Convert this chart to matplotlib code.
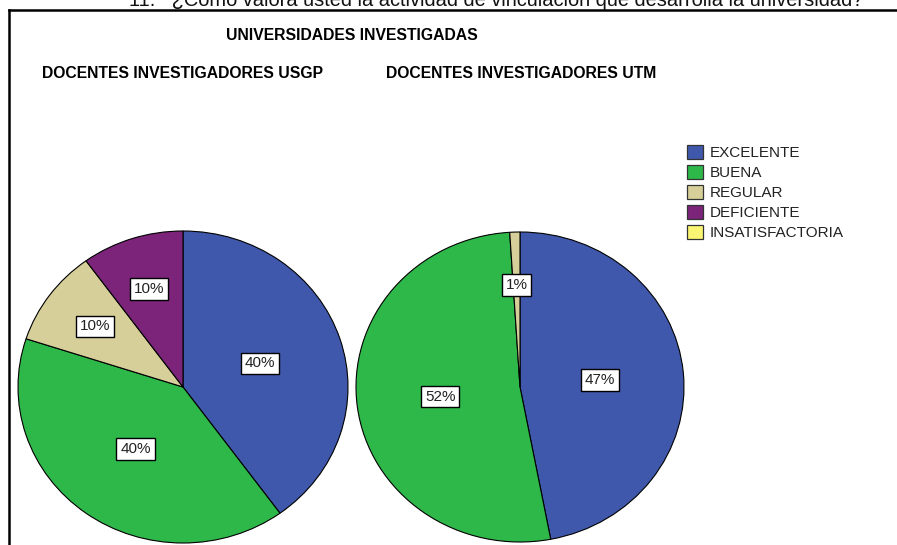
import matplotlib
matplotlib.use('Agg')
import matplotlib.pyplot as plt
from matplotlib.patches import Patch
from matplotlib.lines import Line2D
import numpy as np

plt.rcParams['font.family'] = ['Liberation Sans', 'DejaVu Sans']

categorias = ['EXCELENTE', 'BUENA', 'REGULAR', 'DEFICIENTE', 'INSATISFACTORIA']
colores = ['#3F58AB', '#2EB84A', '#D6CF99', '#7B2479', '#FAF674']
usgp = [40, 40, 10, 10, 0]
utm = [47, 52, 1, 0, 0]
titulos = ['DOCENTES INVESTIGADORES USGP', 'DOCENTES INVESTIGADORES UTM']

W, H = 897, 545
fig = plt.figure(figsize=(W / 100, H / 100), dpi=100)

def caja(x, y, w, h):
    return fig.add_axes([x / W, (H - y - h) / H, w / W, h / H])

def pastel(ax, valores):
    vals = [v for v in valores if v > 0]
    cols = [c for v, c in zip(valores, colores) if v > 0]
    wedges, _ = ax.pie(vals, colors=cols, startangle=90, counterclock=False,
                       wedgeprops=dict(edgecolor='black', linewidth=0.8))
    ax.set_aspect('auto')
    ax.set_xlim(-1, 1)
    ax.set_ylim(-1, 1)
    for w, v in zip(wedges, vals):
        ang = np.deg2rad((w.theta1 + w.theta2) / 2)
        r = 0.66 if v < 15 else 0.49
        ax.text(r * np.cos(ang), r * np.sin(ang), f'{v}%', ha='center', va='center',
                fontsize=11, color='#222222',
                bbox=dict(boxstyle='square,pad=0.25', fc='white', ec='black', lw=1.0))

ax1 = caja(18, 231, 330, 312)
pastel(ax1, usgp)
ax2 = caja(356, 232, 328, 310)
pastel(ax2, utm)

# marco
fig.add_artist(Line2D([9 / W, 1], [1 - 10 / H, 1 - 10 / H], color='black', lw=1.8,
                      transform=fig.transFigure))
fig.add_artist(Line2D([9 / W, 9 / W], [0, 1 - 10 / H], color='black', lw=1.8,
                      transform=fig.transFigure))

# pregunta (cortada arriba, como en la captura)
fig.text(496 / W, 1 - 6 / H, '11.   ¿Cómo valora usted la actividad de vinculación que desarrolla la universidad?',
         ha='center', va='baseline', fontsize=14.4, color='#111111')

fig.text(352 / W, 1 - 36 / H, 'UNIVERSIDADES INVESTIGADAS', ha='center', va='center',
         fontsize=11.3, fontweight='bold')
fig.text(42 / W, 1 - 73 / H, titulos[0], ha='left', va='center',
         fontsize=11.3, fontweight='bold')
fig.text(386 / W, 1 - 73 / H, titulos[1], ha='left', va='center',
         fontsize=11.3, fontweight='bold')

handles = [Patch(facecolor=c, edgecolor='#333333', lw=0.9) for c in colores]
fig.legend(handles, categorias, loc='upper left', bbox_to_anchor=(681 / W, 1 - 139 / H),
           frameon=False, fontsize=11, handlelength=1.05, handleheight=1.05,
           handletextpad=0.45, labelspacing=0.3, borderaxespad=0,
           labelcolor='#222222')

fig.savefig('out.png', dpi=100)
